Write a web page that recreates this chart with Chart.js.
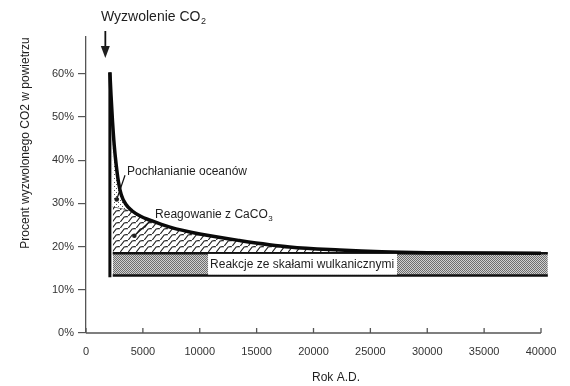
<!DOCTYPE html>
<html>
<head>
<meta charset="utf-8">
<script src="https://cdn.jsdelivr.net/npm/chart.js@4.4.0/dist/chart.umd.min.js"></script>
<style>
  html, body { margin: 0; padding: 0; background: #fff; }
  #wrap { width: 570px; height: 386px; }
</style>
</head>
<body>
<div id="wrap"><canvas id="co2Chart" width="570" height="386"></canvas></div>
<script>
// CO2 left in the air after the release (percent), by year A.D.
const airYears = [2100, 2200, 2330, 2480, 2650, 2850, 3100, 3500, 4040, 4800, 5630, 7380, 10000, 13500, 17900, 22300, 26000, 30000, 40000];
const airPercent = [60.3, 55, 49, 43.5, 39, 35, 32, 29.8, 28.3, 27, 26.1, 24.5, 22.9, 21.4, 19.9, 19.2, 18.8, 18.6, 18.45];

// upper edge of the CaCO3 zone before it joins the main curve
const calciteYears = [2350, 3200, 4000];
const calcitePercent = [29.2, 28.8, 28.3];

// volcanic rock band
const bandYears = [2350, 40600];
const bandTop = [18.45, 18.45];
const bandBottom = [13.3, 13.3];

// release spike
const releaseYears = [2100, 2100];
const releasePercent = [12.9, 60.3];

const xTicks = [0, 5000, 10000, 15000, 20000, 25000, 30000, 35000, 40000];
const yTicks = [0, 10, 20, 30, 40, 50, 60];

const font = '"Liberation Sans", Arial, sans-serif';

function pts(xs, ys) {
  return xs.map((x, i) => ({ x: x, y: ys[i] }));
}

// calcite edge follows the main curve after they meet
const calciteLine = pts(calciteYears, calcitePercent)
  .concat(pts(airYears, airPercent).filter(p => p.x > calciteYears[calciteYears.length - 1]));

function makePattern(w, h, draw) {
  const c = document.createElement('canvas');
  c.width = w; c.height = h;
  const g = c.getContext('2d');
  draw(g);
  return g.createPattern(c, 'repeat');
}

const greyDots = makePattern(2, 2, g => {
  g.fillStyle = '#d0d0d0'; g.fillRect(0, 0, 2, 2);
  g.fillStyle = '#6e6e6e'; g.fillRect(0, 0, 1, 1); g.fillRect(1, 1, 1, 1);
});

const oceanDots = makePattern(4, 4, g => {
  g.fillStyle = '#fff'; g.fillRect(0, 0, 4, 4);
  g.fillStyle = '#555'; g.fillRect(0, 0, 1, 1); g.fillRect(2, 2, 1, 1);
});

// slanted roof-tile hatching
const scaleHatch = makePattern(8, 6, g => {
  g.fillStyle = '#fff'; g.fillRect(0, 0, 8, 6);
  g.strokeStyle = '#222'; g.lineWidth = 1.1;
  g.beginPath();
  g.moveTo(0.3, 6);
  g.lineTo(4.2, 1);
  g.quadraticCurveTo(5.5, 0.4, 8, 0.8);
  g.stroke();
});

const annotations = {
  id: 'annotations',
  afterDatasetsDraw(chart) {
    const ctx = chart.ctx;
    const x = chart.scales.x, y = chart.scales.y;
    const bottom = chart.chartArea.bottom;
    ctx.save();

    // x axis line with inward ticks
    ctx.strokeStyle = '#555';
    ctx.lineWidth = 1.3;
    ctx.beginPath();
    ctx.moveTo(x.getPixelForValue(0), bottom);
    ctx.lineTo(x.getPixelForValue(40000), bottom);
    xTicks.forEach(t => {
      ctx.moveTo(x.getPixelForValue(t), bottom);
      ctx.lineTo(x.getPixelForValue(t), bottom - 5);
    });
    ctx.stroke();

    ctx.fillStyle = '#1e1e1e';
    ctx.textBaseline = 'middle';

    // title + arrow
    ctx.font = '14px ' + font;
    ctx.textAlign = 'left';
    const tx = 101;
    ctx.fillText('Wyzwolenie CO', tx, 17);
    const tw = ctx.measureText('Wyzwolenie CO').width;
    ctx.font = '9px ' + font;
    ctx.fillText('2', tx + tw + 0.5, 22);

    const ax = x.getPixelForValue(1700);
    ctx.strokeStyle = '#111';
    ctx.lineWidth = 1.8;
    ctx.beginPath();
    ctx.moveTo(ax, 31);
    ctx.lineTo(ax, 50);
    ctx.stroke();
    ctx.beginPath();
    ctx.moveTo(ax - 4.5, 46);
    ctx.lineTo(ax + 4.5, 46);
    ctx.lineTo(ax, 58);
    ctx.closePath();
    ctx.fill();

    // axis titles
    ctx.font = '12px ' + font;
    ctx.textAlign = 'center';
    ctx.fillText('Rok A.D.', 336, 378);
    ctx.save();
    ctx.translate(26, 143);
    ctx.rotate(-Math.PI / 2);
    ctx.fillText('Procent wyzwolonego CO2 w powietrzu', 0, 0);
    ctx.restore();

    // leader lines with dots
    function leader(x1, y1, x2, y2) {
      ctx.strokeStyle = '#111';
      ctx.lineWidth = 1.2;
      ctx.beginPath();
      ctx.moveTo(x.getPixelForValue(x1), y.getPixelForValue(y1));
      ctx.lineTo(x.getPixelForValue(x2), y.getPixelForValue(y2));
      ctx.stroke();
      ctx.beginPath();
      ctx.arc(x.getPixelForValue(x2), y.getPixelForValue(y2), 2.3, 0, Math.PI * 2);
      ctx.fill();
    }
    leader(3430, 36.5, 2700, 30.9);
    leader(5800, 26.3, 4250, 22.5);

    ctx.textAlign = 'left';
    ctx.font = '12px ' + font;
    ctx.fillText('Pochłanianie oceanów', x.getPixelForValue(3600), y.getPixelForValue(37.4));

    const rx = x.getPixelForValue(6070), ry = y.getPixelForValue(27.4);
    ctx.fillText('Reagowanie z CaCO', rx, ry);
    const rw = ctx.measureText('Reagowanie z CaCO').width;
    ctx.font = '8px ' + font;
    ctx.fillText('3', rx + rw + 0.5, ry + 4);

    // label box on the volcanic band
    const bx1 = x.getPixelForValue(10730), bx2 = x.getPixelForValue(27340);
    const by1 = y.getPixelForValue(18.3), by2 = y.getPixelForValue(13.5);
    ctx.fillStyle = '#fff';
    ctx.fillRect(bx1, by1, bx2 - bx1, by2 - by1);
    ctx.fillStyle = '#1e1e1e';
    ctx.font = '12px ' + font;
    ctx.fillText('Reakcje ze skałami wulkanicznymi', bx1 + 2, (by1 + by2) / 2 + 0.5);

    ctx.restore();
  }
};

new Chart(document.getElementById('co2Chart'), {
  type: 'line',
  data: {
    datasets: [
      {
        label: 'band bottom',
        data: pts(bandYears, bandBottom),
        borderColor: '#111',
        borderWidth: 2.5,
        fill: false,
        order: 2
      },
      {
        label: 'Reakcje ze skałami wulkanicznymi',
        data: pts(bandYears, bandTop),
        borderColor: '#111',
        borderWidth: 2.5,
        backgroundColor: greyDots,
        fill: 0,
        order: 3
      },
      {
        label: 'Reagowanie z CaCO3',
        data: calciteLine,
        borderColor: '#333',
        borderWidth: 1,
        backgroundColor: scaleHatch,
        fill: 1,
        cubicInterpolationMode: 'monotone',
        order: 4
      },
      {
        label: 'Pochłanianie oceanów',
        data: pts(airYears, airPercent),
        borderColor: '#0a0a0a',
        borderWidth: 3.5,
        backgroundColor: oceanDots,
        fill: 2,
        cubicInterpolationMode: 'monotone',
        order: 1
      },
      {
        label: 'release',
        data: pts(releaseYears, releasePercent),
        borderColor: '#0a0a0a',
        borderWidth: 3,
        fill: false,
        order: 0
      }
    ]
  },
  options: {
    responsive: false,
    animation: false,
    layout: { padding: { top: 37, right: 22, left: 0, bottom: 0 } },
    elements: { point: { radius: 0, hoverRadius: 0 } },
    plugins: {
      legend: { display: false },
      tooltip: { enabled: false }
    },
    scales: {
      x: {
        type: 'linear',
        min: 0,
        max: 40615,
        afterBuildTicks: s => { s.ticks = xTicks.map(v => ({ value: v })); },
        afterFit: s => { s.height = 53; },
        grid: { display: false },
        border: { display: false },
        ticks: {
          padding: 4,
          maxRotation: 0,
          autoSkip: false,
          color: '#333',
          font: { family: font, size: 11 },
          callback: v => String(v)
        }
      },
      y: {
        min: 0,
        max: 68.5,
        afterBuildTicks: s => { s.ticks = yTicks.map(v => ({ value: v })); },
        afterFit: s => { s.width = 86; },
        grid: { drawOnChartArea: false, tickLength: 8, color: '#555', lineWidth: 1.2 },
        border: { color: '#555', width: 1.3 },
        ticks: {
          padding: 4,
          color: '#333',
          font: { family: font, size: 11 },
          callback: v => v + '%'
        }
      }
    }
  },
  plugins: [annotations]
});
</script>
</body>
</html>
